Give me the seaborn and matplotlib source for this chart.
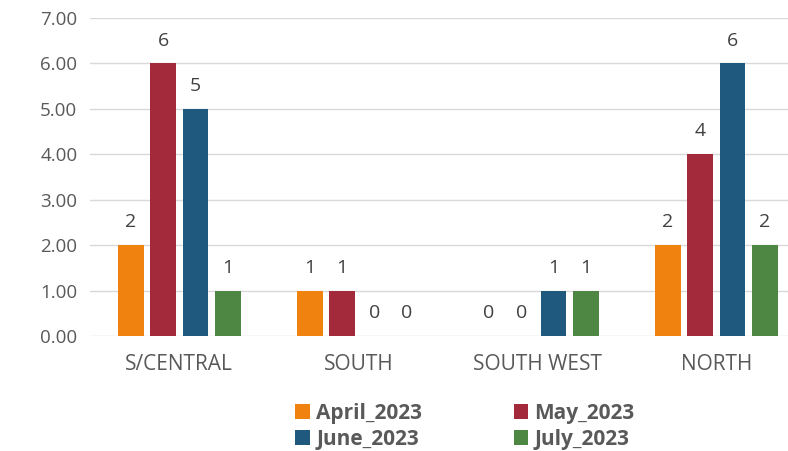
import pandas as pd
import matplotlib.pyplot as plt
import seaborn as sns

regions = ['S/CENTRAL', 'SOUTH', 'SOUTH WEST', 'NORTH']
months = ['April_2023', 'May_2023', 'June_2023', 'July_2023']
april = [2, 1, 0, 2]
may = [6, 1, 0, 4]
june = [5, 0, 1, 6]
july = [1, 0, 1, 2]
colors = ['#F0820F', '#A22A3A', '#1F5A7E', '#4E8744']

df = pd.DataFrame({'Region': regions * 4,
                   'Month': [m for m in months for _ in regions],
                   'Count': april + may + june + july})

sns.set_style('white')
plt.rcParams['font.family'] = ['Open Sans', 'DejaVu Sans']

fig = plt.figure(figsize=(7.88, 4.51), dpi=100)
ax = fig.add_axes([0.114, 0.255, 0.886, 0.705])
sns.barplot(data=df, x='Region', y='Count', hue='Month', palette=colors,
            saturation=1, width=0.72, gap=0.2, linewidth=0, edgecolor='none',
            ax=ax, legend=True, zorder=3)

for c in ax.containers:
    ax.bar_label(c, fmt='%d', padding=10, fontsize=14, color='#404040')

ax.set_ylim(0, 7)
ax.set_xlim(-0.5, 3.4)
ax.set_yticks(range(8))
ax.set_yticklabels([f'{v:.2f}' for v in range(8)])
ax.yaxis.grid(True, color='#D9D9D9', linewidth=1, zorder=0)
ax.tick_params(axis='y', length=0, labelsize=13.5, labelcolor='#595959', pad=9)
ax.tick_params(axis='x', length=0, labelsize=15, labelcolor='#595959', pad=13)
ax.set_xlabel('')
ax.set_ylabel('')
for s in ax.spines.values():
    s.set_visible(False)

handles, labels = ax.get_legend_handles_labels()
ax.legend_.remove()
order = [0, 2, 1, 3]
fig.legend([handles[i] for i in order], [labels[i] for i in order],
           loc='center', bbox_to_anchor=(0.59, 0.055), ncol=2,
           frameon=False, handlelength=0.7, handleheight=0.7, handletextpad=0.3,
           columnspacing=4.4, labelspacing=0.25,
           prop={'weight': 'bold', 'size': 15}, labelcolor='#595959')

fig.savefig('out.png', dpi=100)
